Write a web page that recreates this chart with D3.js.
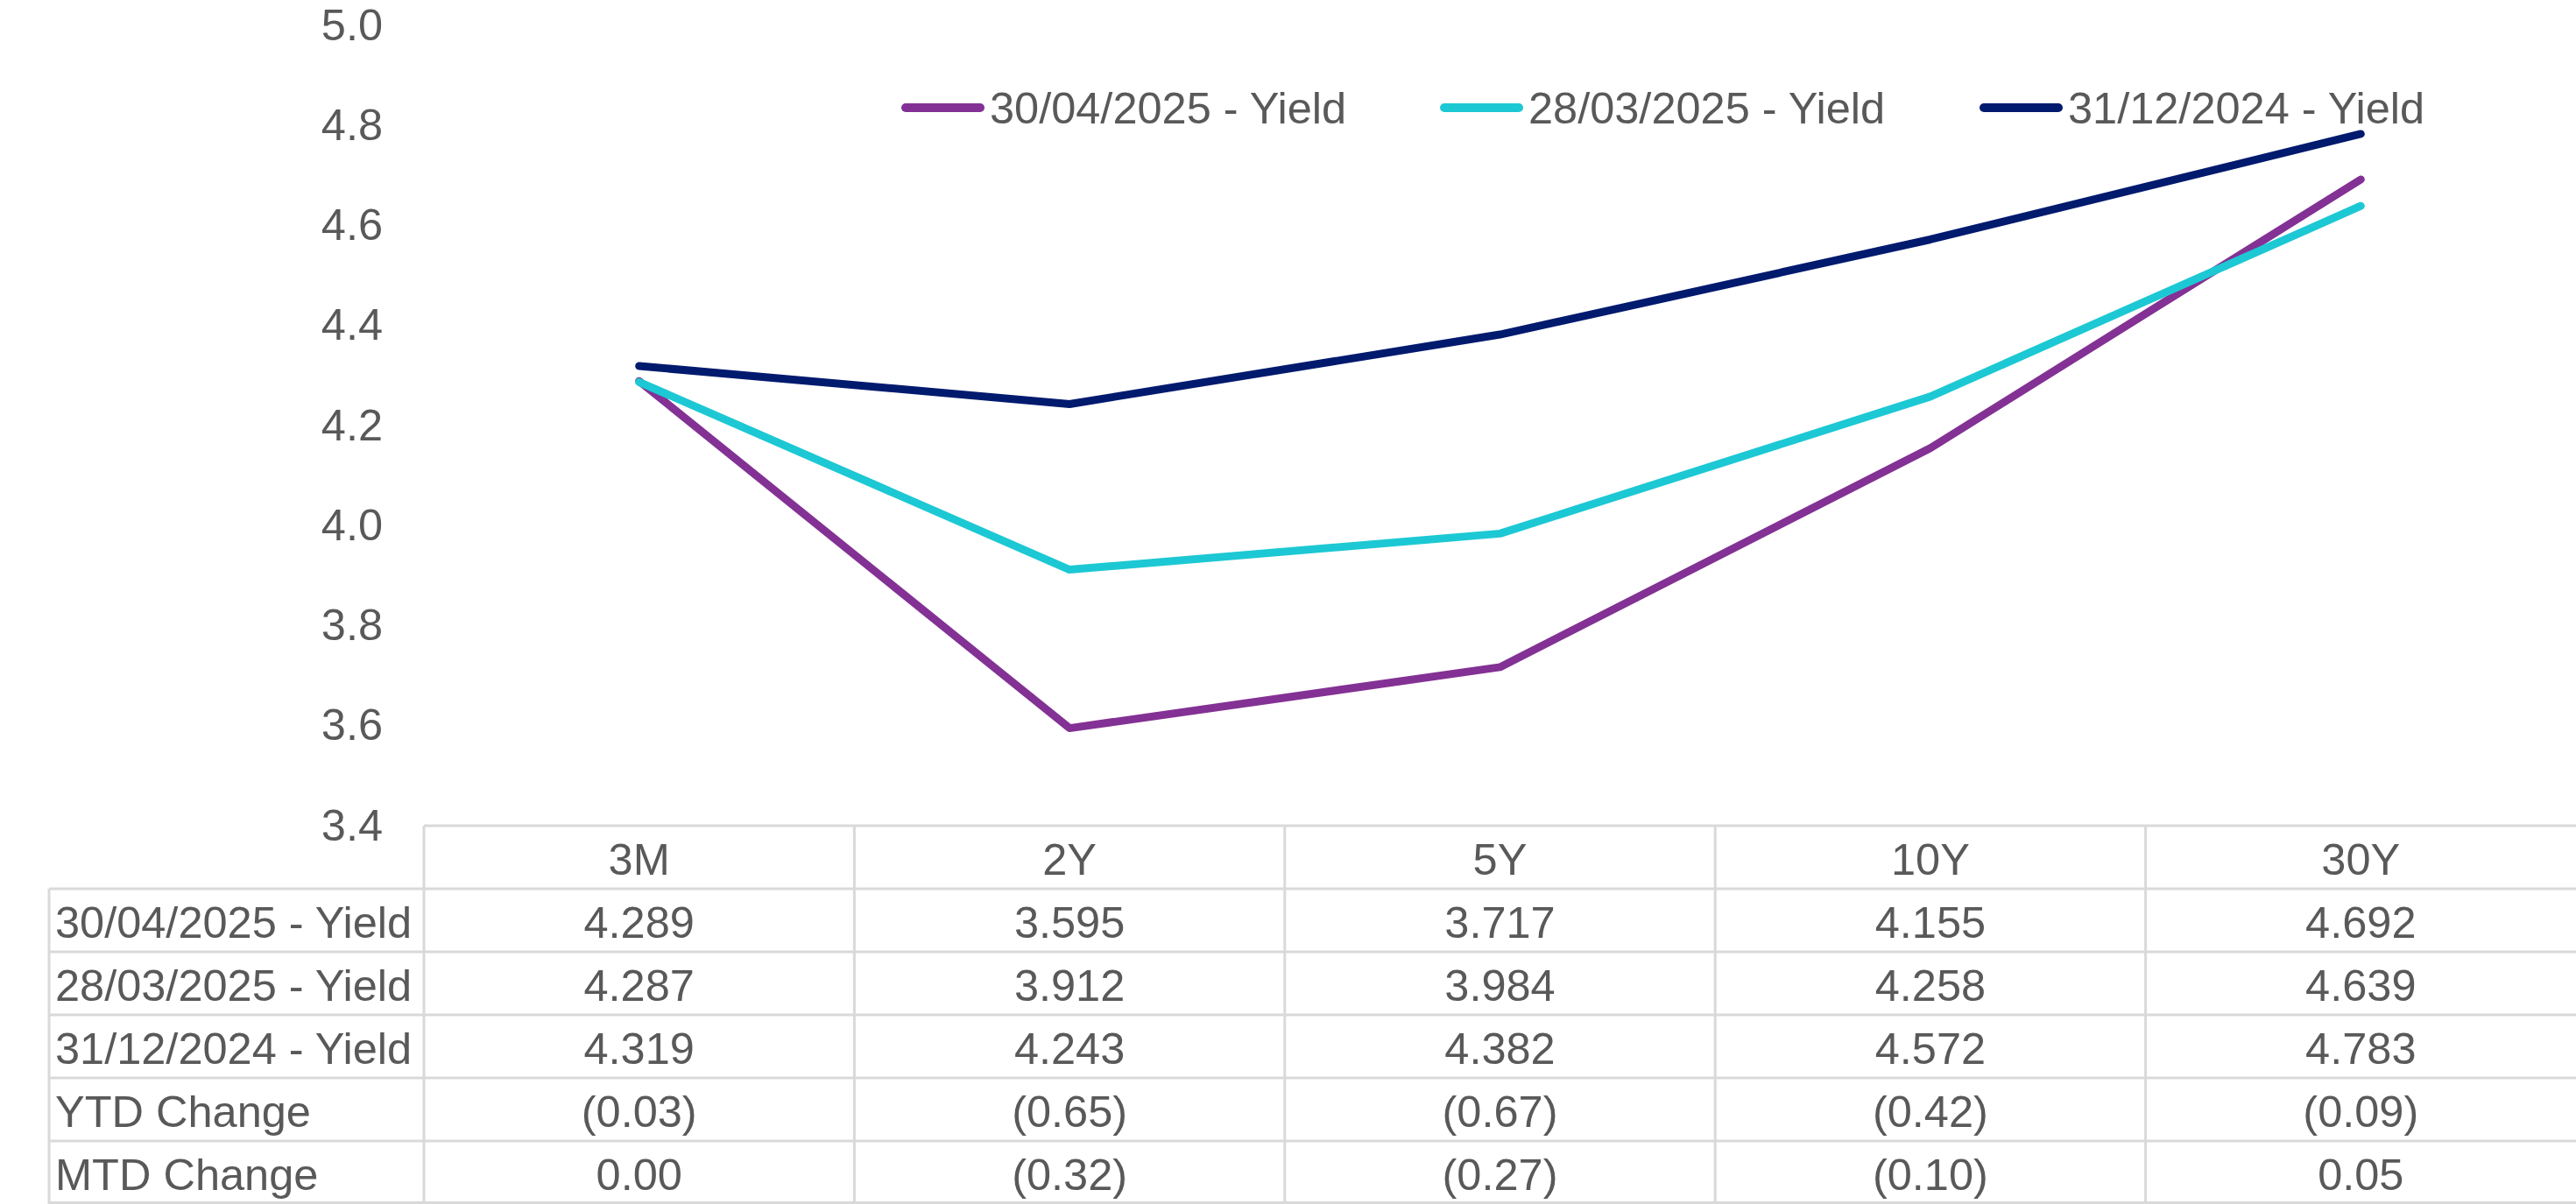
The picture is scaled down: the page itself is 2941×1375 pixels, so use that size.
<!DOCTYPE html>
<html>
<head>
<meta charset="utf-8">
<script src="https://cdn.jsdelivr.net/npm/d3@7"></script>
<style>
  body { margin: 0; background: #fff; }
  svg { display: block; font-family: "Liberation Sans", Arial, sans-serif; }
</style>
</head>
<body>
<svg id="chart"></svg>
<script>
// tenors and the three yield curves
let tenors = ['3M', '2Y', '5Y', '10Y', '30Y']
let seriesNames = ['30/04/2025 - Yield', '28/03/2025 - Yield', '31/12/2024 - Yield']
let apr2025 = [4.289, 3.595, 3.717, 4.155, 4.692]
let mar2025 = [4.287, 3.912, 3.984, 4.258, 4.639]
let dec2024 = [4.319, 4.243, 4.382, 4.572, 4.783]
let ytdChange = ['(0.03)', '(0.65)', '(0.67)', '(0.42)', '(0.09)']
let mtdChange = ['0.00', '(0.32)', '(0.27)', '(0.10)', '0.05']
let yTicks = [3.4, 3.6, 3.8, 4.0, 4.2, 4.4, 4.6, 4.8, 5.0]

let colors = ['#833194', '#1cc8d4', '#001a6e']
let textColor = '#595959'
let gridColor = '#d9d9d9'

//Dimensions
let width = 2941
let height = 1375
let plotLeft = 484
let plotTop = 29
let plotBottom = 943
let rowHeight = 72
let fontSize = 50.5

let svg = d3.select('#chart')
            .attr('width', width)
            .attr('height', height)

let x = d3.scaleBand()
          .domain(tenors)
          .range([plotLeft, width])
let y = d3.scaleLinear()
          .domain([3.4, 5.0])
          .range([plotBottom, plotTop])
let cx = (t) => x(t) + x.bandwidth() / 2

// y axis labels
let yAxis = svg.append('g')
               .attr('transform', 'translate(' + (plotLeft - 47) + ',0)')
               .call(d3.axisLeft(y).tickValues(yTicks).tickFormat(d3.format('.1f')).tickSize(0).tickPadding(0))
yAxis.select('.domain').remove()
yAxis.selectAll('text')
     .attr('fill', textColor)
     .style('font-size', fontSize + 'px')
     .style('font-family', '"Liberation Sans", Arial, sans-serif')

// lines
let series = [apr2025, mar2025, dec2024]
let line = d3.line()
             .x((d, i) => cx(tenors[i]))
             .y((d) => y(d))
svg.selectAll('path.curve')
   .data(series)
   .enter()
   .append('path')
   .attr('class', 'curve')
   .attr('d', (d) => line(d))
   .attr('fill', 'none')
   .attr('stroke', (d, i) => colors[i])
   .attr('stroke-width', 9)
   .attr('stroke-linecap', 'round')
   .attr('stroke-linejoin', 'round')

// legend
let legendX = [1029, 1644, 2260]
let legend = svg.append('g').attr('id', 'legend')
let items = legend.selectAll('g')
                  .data(seriesNames)
                  .enter()
                  .append('g')
                  .attr('transform', (d, i) => 'translate(' + legendX[i] + ',123)')
items.append('line')
     .attr('x1', 5).attr('x2', 90)
     .attr('y1', 0).attr('y2', 0)
     .attr('stroke', (d, i) => colors[i])
     .attr('stroke-width', 10)
     .attr('stroke-linecap', 'round')
items.append('text')
     .attr('x', 101)
     .attr('dy', '0.35em')
     .attr('fill', textColor)
     .style('font-size', fontSize + 'px')
     .text((d) => d)

// data table
let rows = [
    [seriesNames[0]].concat(apr2025.map(d3.format('.3f'))),
    [seriesNames[1]].concat(mar2025.map(d3.format('.3f'))),
    [seriesNames[2]].concat(dec2024.map(d3.format('.3f'))),
    ['YTD Change'].concat(ytdChange),
    ['MTD Change'].concat(mtdChange)
]
let tableLeft = 56
let table = svg.append('g').attr('id', 'table')
let rowY = (i) => plotBottom + rowHeight * (i + 1)

// horizontal rules
table.append('line')
     .attr('x1', plotLeft).attr('x2', width)
     .attr('y1', plotBottom).attr('y2', plotBottom)
     .attr('stroke', gridColor).attr('stroke-width', 3)
rows.forEach((r, i) => {
    table.append('line')
         .attr('x1', tableLeft).attr('x2', width)
         .attr('y1', rowY(i)).attr('y2', rowY(i))
         .attr('stroke', gridColor).attr('stroke-width', 3)
})
table.append('line')
     .attr('x1', tableLeft).attr('x2', width)
     .attr('y1', height - 1.5).attr('y2', height - 1.5)
     .attr('stroke', gridColor).attr('stroke-width', 3)

// vertical rules
table.append('line')
     .attr('x1', tableLeft).attr('x2', tableLeft)
     .attr('y1', rowY(0)).attr('y2', height)
     .attr('stroke', gridColor).attr('stroke-width', 3)
tenors.forEach((t) => {
    table.append('line')
         .attr('x1', x(t)).attr('x2', x(t))
         .attr('y1', plotBottom).attr('y2', height)
         .attr('stroke', gridColor).attr('stroke-width', 3)
})

// header
table.selectAll('text.head')
     .data(tenors)
     .enter()
     .append('text')
     .attr('class', 'head')
     .attr('x', (d) => cx(d))
     .attr('y', plotBottom + rowHeight / 2 + 2)
     .attr('dy', '0.35em')
     .attr('text-anchor', 'middle')
     .attr('fill', textColor)
     .style('font-size', fontSize + 'px')
     .text((d) => d)

// body
rows.forEach((r, i) => {
    let ty = rowY(i) + rowHeight / 2 + 2
    table.append('text')
         .attr('x', tableLeft + 7)
         .attr('y', ty)
         .attr('dy', '0.35em')
         .attr('fill', textColor)
         .style('font-size', fontSize + 'px')
         .text(r[0])
    tenors.forEach((t, j) => {
        table.append('text')
             .attr('x', cx(t))
             .attr('y', ty)
             .attr('dy', '0.35em')
             .attr('text-anchor', 'middle')
             .attr('fill', textColor)
             .style('font-size', fontSize + 'px')
             .text(r[j + 1])
    })
})
</script>
</body>
</html>
